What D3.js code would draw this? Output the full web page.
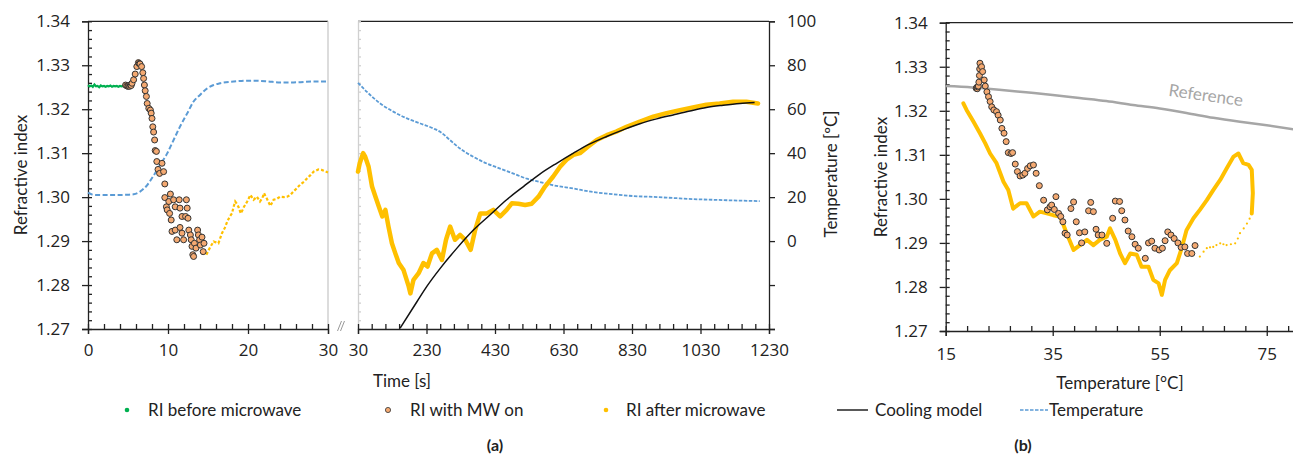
<!DOCTYPE html>
<html>
<head>
<meta charset="utf-8">
<script src="https://d3js.org/d3.v7.min.js"></script>
<style>
body { margin: 0; background: #fff; }
text { font-family: Lato, "Open Sans", sans-serif; fill: #222; }
</style>
</head>
<body>
<script>
// ---- data ----
// (a) left part, time 0-30 s : [time s, RI]
var riBefore = [[0,1.3255],[0.2,1.3252],[0.4,1.3254],[0.6,1.3251],[0.8,1.3256],[1.0,1.3252],[1.2,1.3253],[1.4,1.3250],
  [1.6,1.3254],[1.8,1.3252],[2.0,1.3253],[2.2,1.3251],[2.4,1.3253],[2.6,1.3252],[2.8,1.3254],[3.0,1.3251],[3.2,1.3253],
  [3.4,1.3252],[3.6,1.3253],[3.8,1.3251],[4.0,1.3253],[4.2,1.3252],[4.4,1.3253],[4.6,1.3252],[4.8,1.3253]];
var riMwOn = [[4.7,1.3255],[4.85,1.3253],[5.0,1.3252],[5.1,1.3254],[5.2,1.3252],[5.3,1.3255],[5.4,1.3254],[5.5,1.3259],
  [5.7,1.3267],[5.9,1.3280],[6.1,1.3297],[6.3,1.3306],[6.4,1.3304],[6.5,1.3303],[6.7,1.3297],[6.85,1.3283],[6.95,1.3270],
  [7.05,1.3255],[7.15,1.3242],[7.3,1.3229],[7.4,1.3213],[7.6,1.3202],[7.8,1.3198],[7.9,1.3191],[8.0,1.3179],[8.1,1.3160],
  [8.2,1.3148],[8.33,1.3130],[8.4,1.3106],[8.55,1.3104],[8.6,1.3081],[8.75,1.3063],[8.95,1.3054],[9.25,1.3077],[9.45,1.3058],
  [9.6,1.3030],[9.6,1.2999],[9.8,1.2978],[9.9,1.2971],[10.1,1.2990],[10.2,1.2963],[10.3,1.3007],[10.4,1.2948],[10.5,1.2922],
  [10.7,1.2994],[10.9,1.2978],[10.9,1.2925],[11.1,1.2903],[11.4,1.2994],[11.5,1.2975],[11.5,1.2931],[11.75,1.2956],
  [11.75,1.2918],[11.95,1.2903],[12.2,1.2956],[12.3,1.2994],[12.4,1.2975],[12.5,1.2952],[12.6,1.2925],[12.8,1.2914],
  [12.9,1.2903],[13.0,1.2888],[13.1,1.2869],[13.2,1.2865],[13.3,1.2895],[13.5,1.2884],[13.7,1.2925],[13.8,1.2914],
  [13.95,1.2903],[14.05,1.2891],[14.25,1.2909],[14.4,1.2876],[14.5,1.2895]];
var riAfterEarly = [[14.8,1.2869],[15.1,1.2880],[15.4,1.2890],[15.7,1.2899],[16.0,1.2897],[16.3,1.2895],[16.75,1.2918],
  [17.1,1.2930],[17.4,1.2944],[17.7,1.2955],[18.0,1.2963],[18.2,1.2978],[18.4,1.2990],[18.6,1.2985],[18.8,1.2978],
  [19.1,1.2963],[19.3,1.2970],[19.5,1.2978],[19.9,1.2990],[20.3,1.3005],[20.7,1.2994],[21.1,1.3001],[21.5,1.2990],
  [21.8,1.2998],[22.0,1.3009],[22.4,1.2995],[22.8,1.2980],[23.2,1.2994],[23.6,1.2996],[24.0,1.3001],[24.5,1.3000],
  [24.9,1.3001],[25.3,1.3005],[25.7,1.3013],[26.1,1.3020],[26.5,1.3028],[27.0,1.3035],[27.4,1.3043],[27.8,1.3050],
  [28.2,1.3058],[28.8,1.3063],[29.2,1.3062],[29.5,1.3060],[30,1.3056]];
// temperature [time s, degC]
var tempEarly = [[0,22.0],[0.5,21.2],[1,21.0],[2,21.0],[3,21.0],[4,21.0],[5,21.1],[5.7,21.3],[6.5,22.5],[7.4,25.5],
  [8.2,29.8],[9.0,34.6],[9.9,39.9],[10.7,46.0],[11.5,52.1],[12.4,58.1],[13.2,63.5],[14.0,66.5],[14.9,69.5],[15.7,71.0],
  [16.5,71.8],[18.2,72.6],[19.9,73.0],[20.7,73.0],[22.4,72.7],[24.0,72.2],[25.7,72.2],[28.2,72.6],[30,72.6]];

// (a) right part, time 30-1230 s
var riAfterLate = [[30,1.3058],[35,1.3077],[45,1.3100],[51,1.3092],[61,1.3069],[71,1.3024],[81,1.3001],[91,1.2978],
  [101,1.2956],[110,1.2971],[119,1.2933],[129,1.2895],[139,1.2872],[149,1.2850],[163,1.2834],[178,1.2797],[183,1.2781],
  [192,1.2812],[207,1.2827],[221,1.2850],[233,1.2842],[246,1.2872],[260,1.2880],[275,1.2857],[287,1.2903],[299,1.2933],
  [313,1.2903],[328,1.2914],[343,1.2903],[359,1.2880],[372,1.2925],[387,1.2963],[406,1.2963],[425,1.2971],[445,1.2956],
  [464,1.2971],[479,1.2986],[498,1.2985],[518,1.2982],[537,1.2985],[557,1.3001],[576,1.3024],[600,1.3047],[620,1.3069],
  [639,1.3085],[659,1.3096],[678,1.3100],[702,1.3115],[727,1.3130],[756,1.3141],[784,1.3149],[814,1.3160],[853,1.3172],
  [892,1.3183],[931,1.3191],[970,1.3198],[1008,1.3204],[1047,1.3210],[1086,1.3213],[1125,1.3217],[1164,1.3217],[1198,1.3213]];
var coolingModel = [[153,1.2702],[202,1.2762],[231,1.2797],[270,1.2838],[319,1.2884],[367,1.2925],[416,1.2960],
  [464,1.2994],[513,1.3024],[562,1.3053],[610,1.3077],[659,1.3100],[707,1.3121],[756,1.3138],[804,1.3153],[853,1.3167],
  [902,1.3178],[950,1.3187],[999,1.3196],[1047,1.3204],[1096,1.3209],[1145,1.3213],[1188,1.3215]];
var tempLate = [[30,72.0],[56,67.9],[95,62.6],[134,58.8],[173,55.8],[212,53.5],[251,51.2],[270,49.7],[299,45.9],
  [328,42.1],[367,38.3],[406,35.3],[445,33.0],[484,30.7],[523,28.4],[561,26.9],[600,25.4],[659,23.9],[717,22.3],
  [775,21.3],[833,20.5],[892,20.1],[950,19.6],[1008,19.1],[1067,18.8],[1125,18.5],[1203,18.2]];

// (b) RI against temperature : [degC, RI]
var refWater = [[15,1.3256],[20,1.3253],[25,1.3248],[30,1.3242],[35,1.3236],[40,1.3229],[45,1.3222],[50,1.3213],
  [55,1.3205],[60,1.3195],[65,1.3184],[70,1.3175],[75,1.3167],[80,1.3158]];
var bBefore = [[20.8,1.3253],[20.9,1.3251],[21.0,1.3254]];
var bMwOn = [[20.7,1.3251],[20.8,1.3253],[20.9,1.3250],[21.0,1.3254],[21.1,1.3256],[21.2,1.3265],[21.3,1.3280],
  [21.35,1.3295],[21.4,1.3308],[21.7,1.3300],[21.9,1.3289],[22.2,1.3270],[22.4,1.3256],[22.7,1.3243],[23.0,1.3232],
  [23.3,1.3221],[23.6,1.3209],[24.0,1.3202],[24.5,1.3198],[24.8,1.3190],[25.2,1.3179],[25.5,1.3160],[25.9,1.3149],
  [26.3,1.3130],[26.7,1.3105],[27.2,1.3103],[27.5,1.3105],[28.0,1.3079],[28.4,1.3062],[28.9,1.3052],[29.4,1.3054],
  [29.8,1.3058],[30.3,1.3069],[30.8,1.3075],[31.4,1.3077],[31.9,1.3058],[32.5,1.3030],[33.3,1.2997],[34.0,1.2975],
  [34.5,1.2982],[34.8,1.2986],[35.3,1.2976],[35.6,1.3005],[36.1,1.2967],[36.5,1.2960],[36.9,1.2948],[37.3,1.2922],
  [37.7,1.2918],[38.4,1.2978],[38.9,1.2993],[39.4,1.2948],[40.0,1.2923],[40.4,1.2900],[41.0,1.2925],[41.7,1.2973],
  [42.1,1.2992],[42.6,1.2971],[43.1,1.2931],[43.5,1.2918],[44.2,1.2918],[45.1,1.2899],[46.2,1.2956],[46.7,1.2995],
  [47.5,1.2994],[47.9,1.2973],[48.5,1.2952],[49.1,1.2927],[49.8,1.2914],[50.4,1.2897],[51.0,1.2888],[52.3,1.2865],
  [52.9,1.2900],[53.5,1.2904],[54.1,1.2888],[54.9,1.2884],[55.5,1.2888],[56.0,1.2905],[56.5,1.2925],[57.1,1.2918],
  [57.7,1.2910],[58.4,1.2900],[59.0,1.2890],[59.7,1.2891],[60.2,1.2876],[61.0,1.2876],[61.6,1.2894]];
var bAfterSparse = [[62.5,1.2869],[63.2,1.2880],[63.8,1.2888],[64.4,1.2890],[65.0,1.2891],[65.6,1.2895],[66.3,1.2899],
  [66.9,1.2897],[67.5,1.2895],[68.3,1.2897],[69.1,1.2899],[69.6,1.2910],[70.0,1.2922],[70.7,1.2933],[71.3,1.2944],
  [71.8,1.2955],[72.2,1.2967]];
var bAfterDense = [[72.2,1.2967],[72.4,1.3013],[72.2,1.3066],[71.6,1.3077],[70.6,1.3081],[69.7,1.3103],[68.8,1.3096],
  [67.5,1.3069],[66.3,1.3043],[65.0,1.3020],[63.8,1.2997],[62.5,1.2975],[61.3,1.2956],[60.0,1.2929],[59.1,1.2888],
  [58.2,1.2854],[56.9,1.2838],[56.0,1.2816],[55.4,1.2782],[54.8,1.2808],[53.8,1.2816],[52.9,1.2846],[51.6,1.2846],
  [50.7,1.2873],[49.5,1.2876],[48.5,1.2854],[47.6,1.2876],[46.7,1.2907],[45.7,1.2933],[45.1,1.2914],[43.8,1.2907],
  [42.6,1.2895],[41.4,1.2907],[40.1,1.2895],[38.9,1.2884],[37.6,1.2922],[36.4,1.2960],[35.1,1.2963],[33.9,1.2967],
  [32.6,1.2971],[31.4,1.2960],[30.1,1.2990],[28.9,1.2990],[27.6,1.2978],[26.7,1.3020],[25.8,1.3039],[24.5,1.3081],
  [23.3,1.3103],[22.4,1.3126],[21.4,1.3149],[20.2,1.3175],[18.9,1.3202],[18.3,1.3217]];

var riTicks = [1.27, 1.28, 1.29, 1.30, 1.31, 1.32, 1.33, 1.34];
var tempTicks = [-40, -20, 0, 20, 40, 60, 80, 100];
var timeTicksA = [0, 10, 20, 30];
var timeTicksB = [30, 230, 430, 630, 830, 1030, 1230];
var tempTicksB = [15, 35, 55, 75];

var cGreen = "#00B050", cOrange = "#F4A971", cYellow = "#FFC000", cBlue = "#5B9BD5", cGray = "#A6A6A6";

var svg = d3.select("body").append("svg").attr("width", 1293).attr("height", 458);

var xA = d3.scaleLinear().domain([0, 30]).range([88, 328]);
var xB = d3.scaleLinear().domain([30, 1230]).range([358, 769]);
var yRI = d3.scaleLinear().domain([1.27, 1.34]).range([329, 21.3]);
var yT = d3.scaleLinear().domain([-40, 100]).range([329, 21.3]);
var xC = d3.scaleLinear().domain([15, 80]).range([945.7, 1293.5]);
var yC = d3.scaleLinear().domain([1.27, 1.34]).range([331, 22.7]);

function range(a, b, s) { return d3.range(a, b + s / 2, s); }

function styleAxis(g, color) {
  g.selectAll("path,line").attr("stroke", color || "#222").attr("stroke-width", 1.3);
  g.selectAll("text").style("font-size", "17px").style("fill", "#222").style("font-family", "'Open Sans', sans-serif");
}

// ---------- panel (a) left ----------
var gA = svg.append("g");
gA.append("line").attr("x1", 88).attr("x2", 328).attr("y1", 21.3).attr("y2", 21.3).attr("stroke", "#222").attr("stroke-width", 1.3);
gA.append("line").attr("x1", 328).attr("x2", 328).attr("y1", 21.3).attr("y2", 329).attr("stroke", "#d0d0d0").attr("stroke-width", 1.5);
gA.append("g").attr("transform", "translate(88,0)")
  .call(d3.axisLeft(yRI).tickValues(riTicks).tickSize(6).tickPadding(12).tickFormat(d3.format(".2f"))).call(styleAxis);
gA.append("g").attr("transform", "translate(88,0)")
  .call(d3.axisLeft(yRI).tickValues(range(1.27, 1.34, 0.002)).tickSize(-4).tickFormat("")).call(styleAxis)
  .select(".domain").remove();
gA.append("g").attr("transform", "translate(0,329)")
  .call(d3.axisBottom(xA).tickValues(timeTicksA).tickSize(5).tickPadding(10).tickFormat(d3.format("d"))).call(styleAxis);
gA.append("g").attr("transform", "translate(0,329)")
  .call(d3.axisBottom(xA).tickValues(range(0, 30, 2)).tickSize(-5).tickFormat("")).call(styleAxis)
  .select(".domain").remove();

var lineA = d3.line().x(function (d) { return xA(d[0]); }).y(function (d) { return yRI(d[1]); });
var lineAT = d3.line().x(function (d) { return xA(d[0]); }).y(function (d) { return yT(d[1]); }).curve(d3.curveMonotoneX);

gA.append("path").datum(tempEarly).attr("d", lineAT).attr("fill", "none").attr("stroke", cBlue)
  .attr("stroke-width", 2).attr("stroke-dasharray", "5,2.5");
gA.append("path").datum(riBefore).attr("d", lineA).attr("fill", "none").attr("stroke", cGreen).attr("stroke-width", 2.2);
gA.append("path").datum(riAfterEarly).attr("d", lineA).attr("fill", "none").attr("stroke", cYellow)
  .attr("stroke-width", 2.2).attr("stroke-dasharray", "3,2");
gA.selectAll("circle.on").data(riMwOn).enter().append("circle").attr("class", "on")
  .attr("cx", function (d) { return xA(d[0]); }).attr("cy", function (d) { return yRI(d[1]); })
  .attr("r", 3).attr("fill", cOrange).attr("stroke", "#333").attr("stroke-width", 1);

// break marks
svg.append("line").attr("x1", 337.5).attr("y1", 331).attr("x2", 341.5).attr("y2", 321).attr("stroke", "#999").attr("stroke-width", 1);
svg.append("line").attr("x1", 340.5).attr("y1", 331).attr("x2", 344.5).attr("y2", 321).attr("stroke", "#999").attr("stroke-width", 1);

// ---------- panel (a) right ----------
var gB = svg.append("g");
gB.append("line").attr("x1", 358).attr("x2", 769).attr("y1", 21.3).attr("y2", 21.3).attr("stroke", "#222").attr("stroke-width", 1.3);
gB.append("g").attr("transform", "translate(358,0)")
  .call(d3.axisLeft(yRI).tickValues(range(1.27, 1.34, 0.002)).tickSize(-3).tickFormat("")).call(styleAxis, "#d0d0d0");
gB.append("g").attr("transform", "translate(769,0)")
  .call(d3.axisRight(yT).tickValues(tempTicks).tickSize(6).tickPadding(12)
    .tickFormat(function (d) { return d >= 0 ? d : ""; })).call(styleAxis);
gB.append("g").attr("transform", "translate(0,329)")
  .call(d3.axisBottom(xB).tickValues(timeTicksB).tickSize(5).tickPadding(10).tickFormat(d3.format("d"))).call(styleAxis);
gB.append("g").attr("transform", "translate(0,329)")
  .call(d3.axisBottom(xB).tickValues(range(30, 1230, 40)).tickSize(-5).tickFormat("")).call(styleAxis)
  .select(".domain").remove();

var lineB = d3.line().x(function (d) { return xB(d[0]); }).y(function (d) { return yRI(d[1]); });
var lineBT = d3.line().x(function (d) { return xB(d[0]); }).y(function (d) { return yT(d[1]); }).curve(d3.curveMonotoneX);

gB.append("path").datum(tempLate).attr("d", lineBT).attr("fill", "none").attr("stroke", cBlue)
  .attr("stroke-width", 1.8).attr("stroke-dasharray", "3.5,1.5");
gB.append("path").datum(riAfterLate).attr("d", lineB).attr("fill", "none").attr("stroke", cYellow)
  .attr("stroke-width", 4.5).attr("stroke-linejoin", "round").attr("stroke-linecap", "round");
gB.append("path").datum(coolingModel).attr("d", lineB.curve(d3.curveMonotoneX)).attr("fill", "none")
  .attr("stroke", "#111").attr("stroke-width", 1.5);

// ---------- panel (b) ----------
var gC = svg.append("g");
gC.append("line").attr("x1", 945.7).attr("x2", 1293).attr("y1", 22.7).attr("y2", 22.7).attr("stroke", "#222").attr("stroke-width", 1.3);
gC.append("g").attr("transform", "translate(945.7,0)")
  .call(d3.axisLeft(yC).tickValues(riTicks).tickSize(6).tickPadding(12).tickFormat(d3.format(".2f"))).call(styleAxis);
gC.append("g").attr("transform", "translate(945.7,0)")
  .call(d3.axisLeft(yC).tickValues(range(1.27, 1.34, 0.002)).tickSize(-4).tickFormat("")).call(styleAxis)
  .select(".domain").remove();
gC.append("g").attr("transform", "translate(0,331)")
  .call(d3.axisBottom(xC).tickValues(tempTicksB).tickSize(5).tickPadding(12)).call(styleAxis);
gC.append("g").attr("transform", "translate(0,331)")
  .call(d3.axisBottom(xC).tickValues(range(15, 79, 4)).tickSize(-5).tickFormat("")).call(styleAxis)
  .select(".domain").remove();

var lineC = d3.line().x(function (d) { return xC(d[0]); }).y(function (d) { return yC(d[1]); });
gC.append("path").datum(refWater).attr("d", lineC.curve(d3.curveMonotoneX)).attr("fill", "none")
  .attr("stroke", cGray).attr("stroke-width", 2.5);
gC.append("text").attr("transform", "translate(1205,101) rotate(8)").attr("text-anchor", "middle")
  .style("font-size", "17px").style("fill", "#A6A6A6").text("Reference");
gC.selectAll("circle.after").data(bAfterSparse).enter().append("circle").attr("class", "after")
  .attr("cx", function (d) { return xC(d[0]); }).attr("cy", function (d) { return yC(d[1]); })
  .attr("r", 1.1).attr("fill", cYellow);
gC.append("path").datum(bAfterDense).attr("d", lineC.curve(d3.curveLinear)).attr("fill", "none").attr("stroke", cYellow)
  .attr("stroke-width", 4).attr("stroke-linejoin", "round").attr("stroke-linecap", "round");
gC.selectAll("circle.before").data(bBefore).enter().append("circle").attr("class", "before")
  .attr("cx", function (d) { return xC(d[0]); }).attr("cy", function (d) { return yC(d[1]); })
  .attr("r", 1.5).attr("fill", cGreen);
gC.selectAll("circle.on").data(bMwOn).enter().append("circle").attr("class", "on")
  .attr("cx", function (d) { return xC(d[0]); }).attr("cy", function (d) { return yC(d[1]); })
  .attr("r", 3).attr("fill", cOrange).attr("stroke", "#333").attr("stroke-width", 1);

// ---------- axis titles ----------
function label(x, y, rot, txt, size, weight) {
  svg.append("text").attr("transform", "translate(" + x + "," + y + ") rotate(" + rot + ")")
    .attr("text-anchor", "middle").style("font-size", (size || 17) + "px").style("font-weight", weight || "normal").text(txt);
}
label(27, 175, -90, "Refractive index");
label(837, 174, -90, "Temperature [\u00baC]");
label(887, 177, -90, "Refractive index");
label(402, 387, 0, "Time [s]");
label(1120, 389, 0, "Temperature [\u00b0C]");
label(495, 451, 0, "(a)", 16, "bold");
label(1023, 451, 0, "(b)", 16, "bold");

// ---------- legend ----------
var lg = svg.append("g");
var ly = 410;
lg.append("circle").attr("cx", 127).attr("cy", ly).attr("r", 2.3).attr("fill", cGreen);
lg.append("text").attr("x", 148).attr("y", ly + 6).style("font-size", "17px").text("RI before microwave");
lg.append("circle").attr("cx", 388).attr("cy", ly).attr("r", 2.6).attr("fill", cOrange).attr("stroke", "#333").attr("stroke-width", 0.8);
lg.append("text").attr("x", 410).attr("y", ly + 6).style("font-size", "17px").text("RI with MW on");
lg.append("circle").attr("cx", 606).attr("cy", ly).attr("r", 2.3).attr("fill", cYellow);
lg.append("text").attr("x", 626).attr("y", ly + 6).style("font-size", "17px").text("RI after microwave");
lg.append("line").attr("x1", 837).attr("x2", 868).attr("y1", ly).attr("y2", ly).attr("stroke", "#222").attr("stroke-width", 1.5);
lg.append("text").attr("x", 875).attr("y", ly + 6).style("font-size", "17px").text("Cooling model");
lg.append("line").attr("x1", 1020).attr("x2", 1048).attr("y1", ly).attr("y2", ly).attr("stroke", cBlue)
  .attr("stroke-width", 1.5).attr("stroke-dasharray", "3.5,1.5");
lg.append("text").attr("x", 1049).attr("y", ly + 6).style("font-size", "17px").text("Temperature");
</script>
</body>
</html>
